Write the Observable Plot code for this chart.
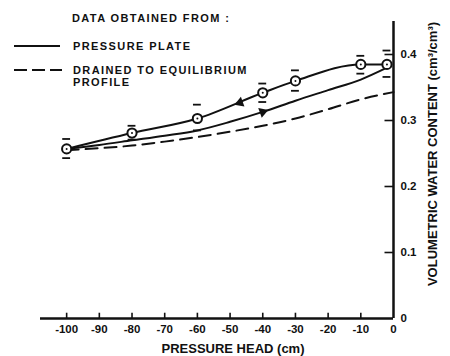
<!DOCTYPE html>
<html><head><meta charset="utf-8">
<script src="https://cdn.jsdelivr.net/npm/d3@7"></script>
<script src="https://cdn.jsdelivr.net/npm/@observablehq/plot@0.6"></script>
<style>
body{margin:0;background:#fff;}
#wrap{position:relative;width:450px;height:356px;}
#legend{position:absolute;left:0;top:0;pointer-events:none;}
#legend text{font-family:"Liberation Sans",Arial,sans-serif;font-weight:bold;font-size:11px;letter-spacing:1.4px;fill:#111;}
</style></head><body><div id="wrap"></div>
<script>
// Measured points (pressure plate) with error bars
const pointX = [-100, -80, -60, -40, -30, -10, -2];
const pointY = [0.257, 0.281, 0.303, 0.342, 0.360, 0.385, 0.385];
const errHigh = [0.272, 0.292, 0.324, 0.356, 0.376, 0.398, 0.406];
const errLow = [0.243, 0.271, 0.285, 0.328, 0.345, 0.371, 0.366];

// Lower (wetting) pressure plate curve
const wetX = [-100, -90, -80, -70, -60, -50, -40, -30, -20, -10, -2];
const wetY = [0.257, 0.263, 0.270, 0.277, 0.285, 0.298, 0.313, 0.330, 0.346, 0.362, 0.380];

// Drained to equilibrium profile (dashed)
const drainX = [-100, -90, -80, -70, -60, -50, -40, -30, -20, -10, 0];
const drainY = [0.255, 0.258, 0.262, 0.268, 0.275, 0.283, 0.292, 0.303, 0.317, 0.332, 0.343];

// Direction arrows on the loop
const arrowX = [-47, -40];
const arrowY = [0.327, 0.313];
const arrowDir = [-1, 1];

// Axis ticks
const xTicks = [-100, -90, -80, -70, -60, -50, -40, -30, -20, -10, 0];
const yTicks = [0, 0.1, 0.2, 0.3, 0.4];

const xTitle = "PRESSURE HEAD (cm)";
const yTitle = "VOLUMETRIC WATER CONTENT (cm\u00B3/cm\u00B3)";
const legendTitle = "DATA OBTAINED FROM :";
const legendSolid = "PRESSURE PLATE";
const legendDashed = ["DRAINED TO EQUILIBRIUM", "PROFILE"];

const points = pointX.map((x, i) => ({x, y: pointY[i], hi: errHigh[i], lo: errLow[i]}));
const wet = wetX.map((x, i) => ({x, y: wetY[i]}));
const drain = drainX.map((x, i) => ({x, y: drainY[i]}));
const arrows = arrowX.map((x, i) => ({x, y: arrowY[i], dir: arrowDir[i]}));

const ink = "#111";
const font = "Liberation Sans, Arial, sans-serif";
const fmtX = d => d === 0 ? "0" : "-" + Math.abs(d);
const fmtY = d => d === 0 ? "0" : d.toFixed(1);

const chart = Plot.plot({
  width: 450,
  height: 356,
  marginLeft: 40,
  marginRight: 57,
  marginTop: 21,
  marginBottom: 38,
  style: {background: "#fff", color: ink, fontFamily: font},
  x: {domain: [-108, 0], axis: null},
  y: {domain: [0, 0.45], axis: null},
  marks: [
    Plot.ruleY([0], {stroke: ink, strokeWidth: 2.5}),
    Plot.ruleX([0], {stroke: ink, strokeWidth: 2.5}),
    Plot.ruleX(xTicks.filter(d => d !== 0), {x: d => d, y1: 0, y2: 0.008, stroke: ink, strokeWidth: 1.6}),
    Plot.ruleY(yTicks.filter(d => d !== 0), {y: d => d, x1: -2.6, x2: 0, stroke: ink, strokeWidth: 1.6}),
    Plot.text(xTicks, {x: d => d, text: fmtX, frameAnchor: "bottom", lineAnchor: "middle", dy: 11, fontSize: 11.5, fontWeight: "bold", fill: ink, style: "letter-spacing:1.5px"}),
    Plot.text(yTicks, {y: d => d, text: fmtY, frameAnchor: "right", dx: 7, textAnchor: "start", lineAnchor: "middle", fontSize: 11.5, fontWeight: "bold", fill: ink}),
    Plot.text([xTitle], {frameAnchor: "bottom", textAnchor: "middle", lineAnchor: "middle", dx: 16, dy: 30, fontSize: 13, fontWeight: "bold", fill: ink, style: "letter-spacing:1.6px"}),
    Plot.text([yTitle], {frameAnchor: "right", textAnchor: "middle", lineAnchor: "middle", dx: 39, dy: -16, rotate: -90, fontSize: 13, fontWeight: "bold", fill: ink, style: "letter-spacing:1.5px"}),
    Plot.line(drain, {x: "x", y: "y", curve: "monotone-x", stroke: ink, strokeWidth: 2, strokeDasharray: "12,7"}),
    Plot.line(wet, {x: "x", y: "y", curve: "monotone-x", stroke: ink, strokeWidth: 2}),
    Plot.line(points, {x: "x", y: "y", curve: "monotone-x", stroke: ink, strokeWidth: 2}),
    Plot.ruleY(points, {y: "hi", x1: d => d.x - 1.2, x2: d => d.x + 1.2, stroke: ink, strokeWidth: 1.8}),
    Plot.ruleY(points, {y: "lo", x1: d => d.x - 1.2, x2: d => d.x + 1.2, stroke: ink, strokeWidth: 1.8}),
    Plot.dot(points, {x: "x", y: "y", r: 4.6, fill: "#fff", stroke: ink, strokeWidth: 2}),
    Plot.dot(points, {x: "x", y: "y", r: 1, fill: ink, stroke: null}),
    Plot.dot(arrows, {x: "x", y: "y", symbol: "triangle", r: 3.8, fill: ink, stroke: null,
      rotate: d => d.dir > 0 ? 90 - 20 : -90 - 20})
  ]
});

const wrap = document.getElementById("wrap");
wrap.appendChild(chart);

const ns = "http://www.w3.org/2000/svg";
const leg = document.createElementNS(ns, "svg");
leg.setAttribute("id", "legend");
leg.setAttribute("width", 260);
leg.setAttribute("height", 95);
function addText(str, x, y) {
  const t = document.createElementNS(ns, "text");
  t.setAttribute("x", x); t.setAttribute("y", y);
  t.textContent = str; leg.appendChild(t);
}
function addLine(x1, x2, y, dash) {
  const l = document.createElementNS(ns, "line");
  l.setAttribute("x1", x1); l.setAttribute("x2", x2);
  l.setAttribute("y1", y); l.setAttribute("y2", y);
  l.setAttribute("stroke", ink); l.setAttribute("stroke-width", 2);
  if (dash) l.setAttribute("stroke-dasharray", dash);
  leg.appendChild(l);
}
addText(legendTitle, 72, 22);
addLine(14, 60, 46, null);
addText(legendSolid, 73, 50);
addLine(14, 62, 70, "13,5");
addText(legendDashed[0], 73, 74);
addText(legendDashed[1], 73, 86);
wrap.appendChild(leg);
</script>
</body></html>
